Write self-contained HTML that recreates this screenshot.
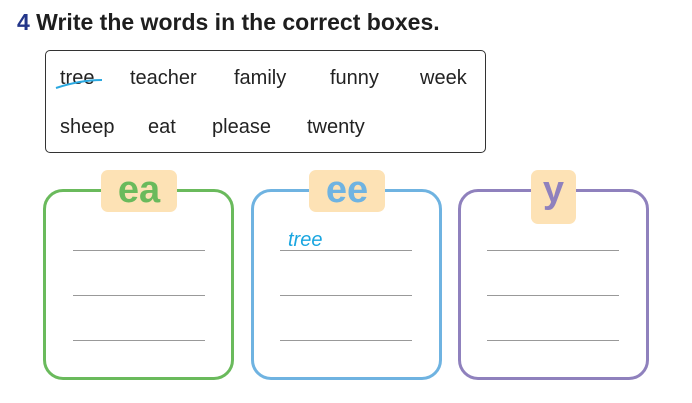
<!DOCTYPE html>
<html><head><style>
body{margin:0;width:692px;height:403px;background:#fff;position:relative;overflow:hidden;font-family:"Liberation Sans",sans-serif}
.a{position:absolute}
.w{position:absolute;font-size:20px;color:#222;top:67px}
.box{position:absolute;top:189px;width:185px;height:185px;border:3px solid;border-radius:20px}
.tab{position:absolute;top:170px;height:42px;background:#fde2b5;border-radius:7px;text-align:center;font-weight:bold;font-size:38px;line-height:40px}
.ln{position:absolute;height:1px;background:#999;width:132px}
</style></head><body>
<div class="a" style="left:17px;top:9px;font-size:23px;font-weight:bold;color:#1e1e1e"><span style="color:#23368a">4</span> Write the words in the correct boxes.</div>
<div class="a" style="left:45px;top:50px;width:439px;height:101px;border:1.5px solid #333;border-radius:5px"></div>
<div class="w" style="left:60px">tree</div>
<svg class="a" style="left:55px;top:74px" width="50" height="20"><path d="M1 14 Q25 6 47 6" stroke="#2aa8e0" stroke-width="2" fill="none"/></svg>
<div class="w" style="left:130px">teacher</div>
<div class="w" style="left:234px">family</div>
<div class="w" style="left:330px">funny</div>
<div class="w" style="left:420px">week</div>
<div class="w" style="left:60px;top:116px">sheep</div>
<div class="w" style="left:148px;top:116px">eat</div>
<div class="w" style="left:212px;top:116px">please</div>
<div class="w" style="left:307px;top:116px">twenty</div>
<div class="box" style="left:43px;border-color:#6aba5c"></div>
<div class="box" style="left:251px;border-color:#6fb3e1"></div>
<div class="box" style="left:458px;border-color:#8f81bd"></div>
<div class="tab" style="left:101px;width:76px;color:#6aba5c">ea</div>
<div class="tab" style="left:309px;width:76px;color:#6fb3e1">ee</div>
<div class="tab" style="left:531px;width:45px;height:54px;color:#8f81bd">y</div>
<div class="a" style="left:288px;top:229px;font-size:20px;font-style:italic;color:#1aa6e0">tree</div>
<div class="ln" style="left:73px;top:250px"></div><div class="ln" style="left:73px;top:295px"></div><div class="ln" style="left:73px;top:340px"></div>
<div class="ln" style="left:280px;top:250px"></div><div class="ln" style="left:280px;top:295px"></div><div class="ln" style="left:280px;top:340px"></div>
<div class="ln" style="left:487px;top:250px"></div><div class="ln" style="left:487px;top:295px"></div><div class="ln" style="left:487px;top:340px"></div>
</body></html>
